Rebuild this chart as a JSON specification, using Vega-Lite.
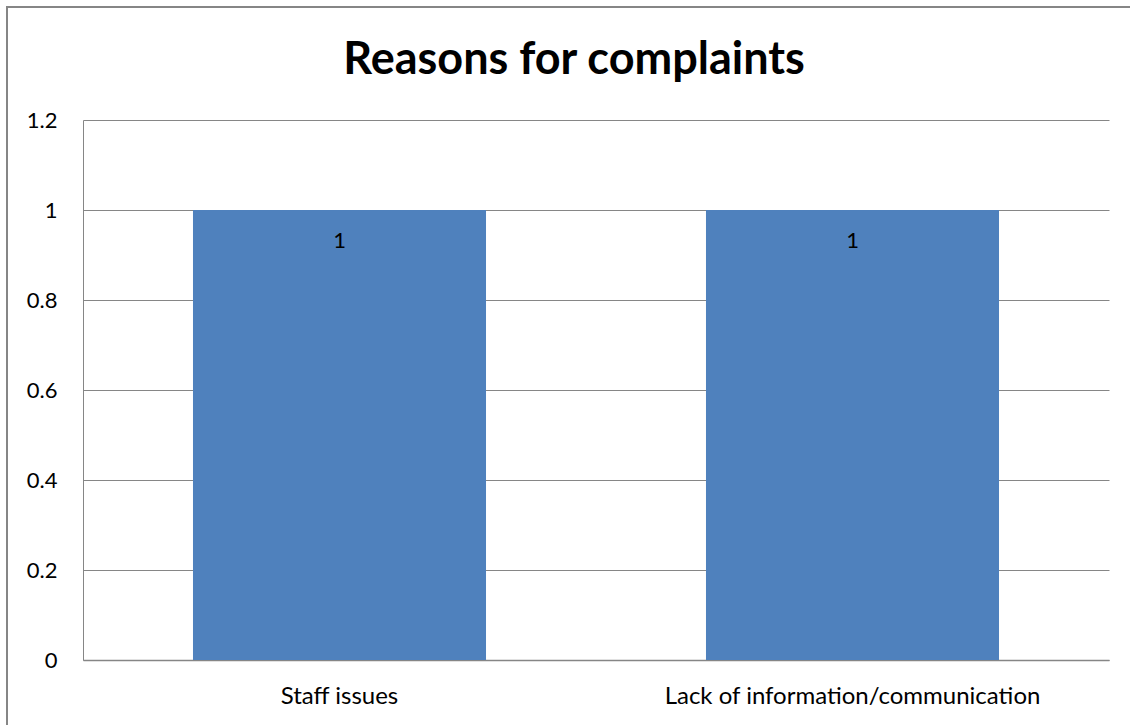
{
  "$schema": "https://vega.github.io/schema/vega-lite/v6.json",
  "width": 1140,
  "height": 730,
  "autosize": "none",
  "padding": {"left": 7, "top": 7, "right": 0, "bottom": 0},
  "background": "white",
  "config": {
    "view": {"stroke": "#868686", "strokeWidth": 2},
    "font": "Lato",
    "axis": {"labelFont": "Lato", "labelColor": "black"}
  },
  "title": {
    "text": "Reasons for complaints",
    "font": "Lato",
    "fontSize": 45,
    "fontWeight": "bold",
    "color": "black",
    "anchor": "middle",
    "frame": "group",
    "orient": "top",
    "baseline": "alphabetic",
    "offset": -66,
    "dy": 46,
    "dx": -3
  },
  "data": {
    "values": [
      {"reason": "Staff issues", "complaints": 1},
      {"reason": "Lack of information/communication", "complaints": 1}
    ]
  },
  "encoding": {
    "x": {
      "field": "reason",
      "type": "nominal",
      "sort": null,
      "scale": {"range": [76, 1102], "paddingInner": 0.4288, "paddingOuter": 0.2144},
      "axis": {
        "title": null,
        "orient": "bottom",
        "offset": -77,
        "labelAngle": 0,
        "labelFontSize": 24,
        "labelBaseline": "alphabetic",
        "labelPadding": 43,
        "labelLimit": 0,
        "ticks": false,
        "grid": false,
        "domainColor": "#868686",
        "domainWidth": 1.5
      }
    },
    "y": {
      "field": "complaints",
      "type": "quantitative",
      "scale": {"domain": [0, 1.2], "range": [653, 113], "nice": false, "zero": true},
      "axis": {
        "title": null,
        "orient": "left",
        "offset": -76,
        "values": [0, 0.2, 0.4, 0.6, 0.8, 1, 1.2],
        "format": "~g",
        "labelFontSize": 22,
        "labelPadding": 26,
        "ticks": false,
        "grid": true,
        "gridColor": "#868686",
        "gridWidth": 1,
        "domainColor": "#868686",
        "domainWidth": 1
      }
    }
  },
  "layer": [
    {"mark": {"type": "bar", "color": "#4F81BD"}},
    {
      "mark": {"type": "text", "baseline": "alphabetic", "dy": 38, "fontSize": 22, "color": "black", "font": "Lato"},
      "encoding": {"text": {"field": "complaints", "type": "quantitative"}}
    }
  ]
}
